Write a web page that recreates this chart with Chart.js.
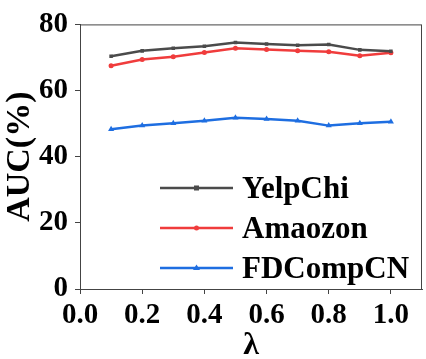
<!DOCTYPE html>
<html>
<head>
<meta charset="utf-8">
<script src="https://cdn.jsdelivr.net/npm/chart.js@4/dist/chart.umd.min.js"></script>
<style>
  html, body { margin: 0; padding: 0; background: #fff; }
  #wrap { width: 426px; height: 359px; }
</style>
</head>
<body>
<div id="wrap"><canvas id="auc"></canvas></div>
<script>
const lambdas = [0.1, 0.2, 0.3, 0.4, 0.5, 0.6, 0.7, 0.8, 0.9, 1.0];
const yelpChi = [70.4, 72.0, 72.8, 73.4, 74.5, 74.1, 73.7, 73.9, 72.3, 71.9];
const amazon = [67.5, 69.4, 70.2, 71.5, 72.8, 72.4, 72.0, 71.7, 70.5, 71.4];
const fdCompCN = [48.3, 49.4, 50.1, 50.9, 51.8, 51.4, 50.9, 49.4, 50.1, 50.6];
const seriesNames = ['YelpChi', 'Amaozon', 'FDCompCN'];
const xTicks = [0.0, 0.2, 0.4, 0.6, 0.8, 1.0];
const yTicks = [0, 20, 40, 60, 80];

const serif = "'Liberation Serif', 'Times New Roman', serif";
const axisColor = '#444';

function pts(ys) {
  return lambdas.map((x, i) => ({ x: x, y: ys[i] }));
}

// frame around plot + legend inside lower right
const framePlugin = {
  id: 'frame',
  afterDraw(chart) {
    const { ctx, chartArea: a } = chart;
    ctx.save();
    ctx.strokeStyle = axisColor;
    ctx.lineWidth = 1;
    ctx.strokeRect(a.left + 0.5, a.top + 0.5, a.right - a.left - 1, a.bottom - a.top);

    const rows = [188, 228, 268];
    chart.data.datasets.forEach((ds, i) => {
      const y = rows[i];
      ctx.strokeStyle = ds.borderColor;
      ctx.lineWidth = 2.5;
      ctx.beginPath();
      ctx.moveTo(160, y);
      ctx.lineTo(233, y);
      ctx.stroke();
      ctx.fillStyle = ds.borderColor;
      if (ds.pointStyle === 'rect') {
        ctx.fillRect(194, y - 2.5, 5, 5);
      } else if (ds.pointStyle === 'triangle') {
        ctx.beginPath();
        ctx.moveTo(196.5, y - 3.5);
        ctx.lineTo(200, y + 2);
        ctx.lineTo(193, y + 2);
        ctx.fill();
      } else {
        ctx.beginPath();
        ctx.arc(196.5, y, 2.5, 0, Math.PI * 2);
        ctx.fill();
      }
      ctx.fillStyle = '#000';
      ctx.font = 'bold 31px ' + serif;
      ctx.textBaseline = 'alphabetic';
      ctx.fillText(ds.label, 242, y + 10);
    });
    ctx.restore();
  }
};

new Chart(document.getElementById('auc'), {
  type: 'line',
  data: {
    datasets: [
      { label: seriesNames[0], data: pts(yelpChi), borderColor: 'rgb(75,75,75)', backgroundColor: 'rgb(75,75,75)', pointStyle: 'rect', pointRadius: 2.5 },
      { label: seriesNames[1], data: pts(amazon), borderColor: 'rgb(240,60,60)', backgroundColor: 'rgb(240,60,60)', pointStyle: 'circle', pointRadius: 2.5 },
      { label: seriesNames[2], data: pts(fdCompCN), borderColor: 'rgb(30,110,225)', backgroundColor: 'rgb(30,110,225)', pointStyle: 'triangle', pointRadius: 3.5 }
    ]
  },
  options: {
    responsive: true,
    maintainAspectRatio: false,
    animation: false,
    elements: { line: { borderWidth: 2.5, tension: 0 }, point: { borderWidth: 0 } },
    layout: { padding: { top: 13, right: 3, left: 0, bottom: 0 } },
    plugins: { legend: { display: false }, tooltip: { enabled: false } },
    scales: {
      x: {
        type: 'linear',
        min: 0,
        max: 1.1,
        afterBuildTicks(scale) { scale.ticks = xTicks.map(v => ({ value: v })); },
        afterFit(scale) { scale.height = 70; },
        grid: { drawOnChartArea: false, drawTicks: true, tickLength: 5, color: axisColor },
        border: { color: axisColor },
        ticks: {
          color: '#000',
          padding: 4,
          maxRotation: 0,
          font: { family: serif, size: 29, weight: 'bold' },
          callback: v => v.toFixed(1)
        },
        title: { display: true, text: 'λ', color: '#000', padding: { top: 0, bottom: -6 }, font: { family: serif, size: 32, weight: 'bold' } }
      },
      y: {
        min: 0,
        max: 80,
        afterBuildTicks(scale) { scale.ticks = yTicks.map(v => ({ value: v })); },
        afterFit(scale) { scale.width = 80; },
        grid: { drawOnChartArea: false, drawTicks: true, tickLength: 5, color: axisColor },
        border: { color: axisColor },
        ticks: { color: '#000', padding: 7, font: { family: serif, size: 29, weight: 'bold' } },
        title: { display: true, text: 'AUC(%)', color: '#000', padding: { top: 0, bottom: 0 }, font: { family: serif, size: 34, weight: 'bold' } }
      }
    }
  },
  plugins: [framePlugin]
});
</script>
</body>
</html>
